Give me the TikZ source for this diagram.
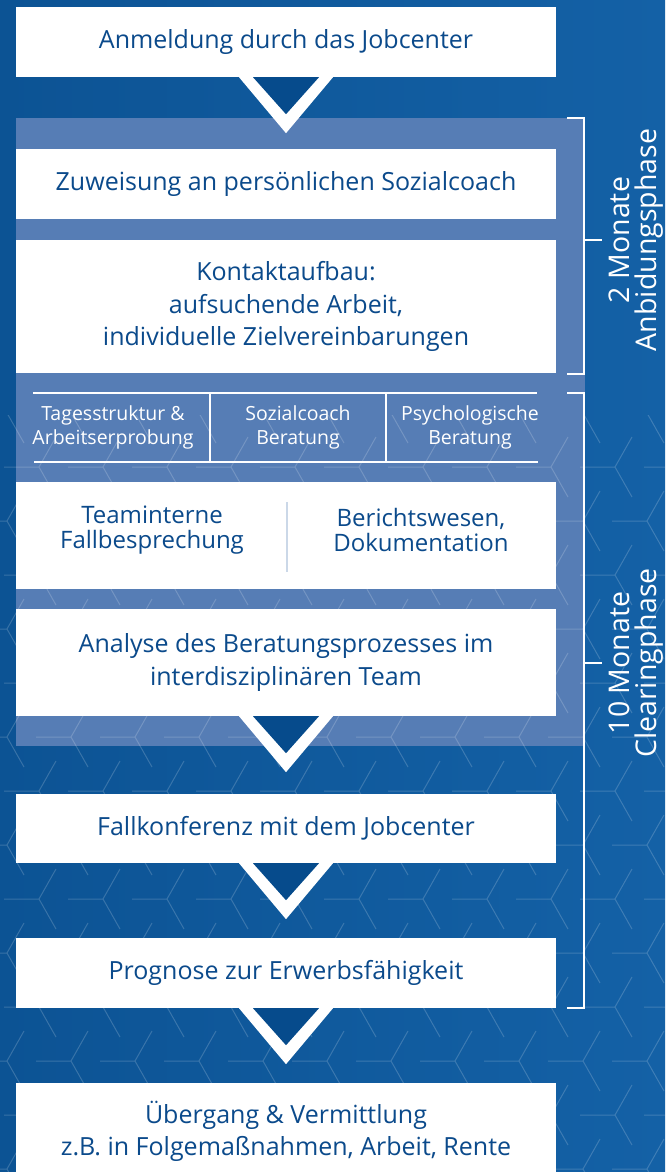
\documentclass[tikz,border=0pt]{standalone}
\usepackage{fontspec}
\setmainfont{Open Sans}
\usepackage{tikz}
\usetikzlibrary{positioning}
\definecolor{bgl}{HTML}{0C5394}
\definecolor{bgr}{HTML}{1461A6}
\definecolor{panel}{HTML}{567DB5}
\definecolor{ink}{HTML}{0B4A8B}
\definecolor{tip}{HTML}{064B8C}
\definecolor{sep}{HTML}{CBD8E8}
\newcommand{\pfeil}[1]{%
  \fill[white, shift={(#1.south)}] (-47,0) -- (47,0) -- (0,56) -- cycle;
  \fill[tip, shift={(#1.south)}] (-33,0) -- (33,0) -- (0,37) -- cycle;}

\begin{document}
\begin{tikzpicture}[x=1pt, y=-1pt,
    box/.style={fill=white, text=ink, minimum width=540pt, align=center, inner sep=0pt,
                font=\fontsize{25}{32.5}\selectfont},
    plain/.style={text=ink, align=center, font=\fontsize{24}{25}\selectfont},
    trio/.style={text=white, align=center, font=\fontsize{19.5}{24}\selectfont},
    phase/.style={text=white, align=center, rotate=90, font=\fontsize{28.5}{27}\selectfont},
    bracket/.style={draw=white, line width=1.5pt}]
    \useasboundingbox (0,0) rectangle (665,1172);
    \fill[left color=bgl, right color=bgr] (0,0) rectangle (665,1172);
    \fill[panel] (16,118) rectangle (585,746);
    \begin{scope}
    	\clip (0,415) rectangle (665,1172);
    	\foreach \k in {-9,...,5}
    	\foreach \m in {-1,...,11} {
    		\pgfmathsetmacro\yy{899+54*\k}
    		\pgfmathsetmacro\xx{39+64*\m-32*isodd(\k)}
    		\draw[white, opacity=.18, line width=1pt] (\xx-35,\yy) -- (\xx,\yy) -- (\xx+17,\yy-30)
    			(\xx,\yy) -- (\xx+17,\yy+30);
    	}
    \end{scope}
    \node[box, minimum height=70pt] (anm) at (286,42) {Anmeldung durch das Jobcenter};
    \node[box, minimum height=70pt] (zuw) at (286,184) {Zuweisung an persönlichen Sozialcoach};
    \node[box, minimum height=133pt] (kon) at (286,306.5) {Kontaktaufbau:\\aufsuchende Arbeit,\\individuelle Zielvereinbarungen};
    \node[box, minimum height=107pt] (team) at (286,535.5) {};
    \node[box, minimum height=107pt] (ana) at (286,662.5) {Analyse des Beratungsprozesses im\\interdisziplinären Team};
    \node[box, minimum height=69pt] (fall) at (286,828.5) {Fallkonferenz mit dem Jobcenter};
    \node[box, minimum height=70pt] (prog) at (286,973) {Prognose zur Erwerbsfähigkeit};
    \node[box, minimum height=97pt] (ueb) at (286,1131.5) {Übergang \& Vermittlung\\z.B. in Folgemaßnahmen, Arbeit, Rente};
    \pfeil{anm}
    \pfeil{ana}
    \pfeil{fall}
    \pfeil{prog}
    \node[trio] (tag) at (113,427) {Tagesstruktur \&\\Arbeitserprobung};
    \node[trio] (soz) at (298,427) {Sozialcoach\\Beratung};
    \node[trio] (psy) at (470,427) {Psychologische\\Beratung};
    \draw[white, line width=1.5pt] (33,393) -- (537,393) (34,462) -- (538,462)
    	(210,393) -- (210,462) (386,393) -- (386,462);
    \node[plain] (tint) at (152,530) {Teaminterne\\Fallbesprechung};
    \node[plain] (ber) at (421,530) {Berichtswesen,\\Dokumentation};
    \draw[sep, line width=1.5pt] (287,502) -- (287,572);
    \draw[bracket] (567,118) -- (584,118) -- (584,374) -- (567,374) (584,240) -- (602,240);
    \draw[bracket] (567,393) -- (584,393) -- (584,1008) -- (567,1008) (584,663) -- (602,663);
    \node[phase] (anb) at (636,240) {2 Monate\\Anbidungsphase};
    \node[phase] (clr) at (636,663) {10 Monate\\Clearingphase};
\end{tikzpicture}
\end{document}
